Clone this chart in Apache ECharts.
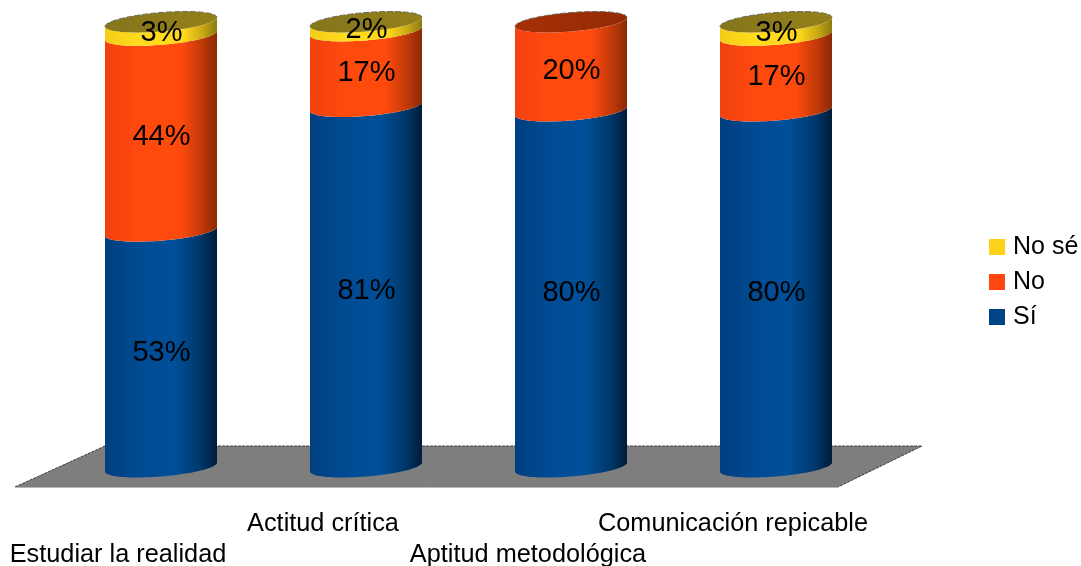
<!DOCTYPE html>
<html>
<head>
<meta charset="utf-8">
<style>html,body{margin:0;padding:0;background:#fff}#chart{width:1081px;height:566px}</style>
<script src="https://cdn.jsdelivr.net/npm/echarts@6/dist/echarts.min.js"></script>
</head>
<body>
<div id="chart"></div>
<script>
// Survey answers per competence, in percent
const categories = ['Estudiar la realidad', 'Actitud crítica', 'Aptitud metodológica', 'Comunicación repicable'];
const si = [53, 81, 80, 80];
const no = [44, 17, 20, 17];
const noSe = [3, 2, 0, 3];

const FONT = '"Liberation Sans", Arial, sans-serif';

// Cylinder side shading, left to right
function sideFill(stops) {
  return { type: 'linear', x: 0, y: 0, x2: 1, y2: 0,
    colorStops: stops.map(s => ({ offset: s[0], color: s[1] })) };
}
const palette = {
  'Sí': {
    legend: '#004488',
    side: sideFill([[0, '#003f80'], [0.35, '#004c94'], [0.62, '#004f98'], [0.84, '#00396e'], [1, '#001c38']]),
    cap: '#002c5a'
  },
  'No': {
    legend: '#ff4510',
    side: sideFill([[0, '#f2410f'], [0.3, '#ff4a0e'], [0.68, '#ff4a0e'], [0.86, '#c23a09'], [1, '#8a2a05']]),
    cap: sideFill([[0, '#a62f04'], [1, '#932b05']])
  },
  'No sé': {
    legend: '#ffd21a',
    side: sideFill([[0, '#f2cc18'], [0.3, '#ffdc1c'], [0.7, '#ffd81c'], [0.87, '#c9a814'], [1, '#8c7a10']]),
    cap: sideFill([[0, '#85761c'], [1, '#94801a']])
  }
};

// Stack the three answers so each segment knows where it starts and ends
const stacked = { 'Sí': [], 'No': [], 'No sé': [] };
categories.forEach((_, i) => {
  const start1 = si[i], start2 = start1 + no[i], end = start2 + noSe[i];
  stacked['Sí'].push([i, 0, start1, si[i], noSe[i] === 0 && no[i] === 0 ? 1 : 0]);
  stacked['No'].push([i, start1, start2, no[i], noSe[i] === 0 ? 1 : 0]);
  stacked['No sé'].push([i, start2, end, noSe[i], 1]);
});

const SKEW = 4.5;   // vertical tilt of the elliptical rims
const RIM = 9.5;    // vertical radius of the rims
const STEPS = 48;

function rim(cx, cy, rx, from, to) {
  const pts = [];
  for (let k = 0; k <= STEPS; k++) {
    const t = from + (to - from) * k / STEPS;
    pts.push([cx + rx * Math.cos(t), cy + RIM * Math.sin(t) - SKEW * Math.cos(t)]);
  }
  return pts;
}

function drawSegment(name) {
  return function (params, api) {
    const value = api.value(3);
    if (!value) return { type: 'group', children: [] };
    const idx = api.value(0);
    const base = api.coord([idx, api.value(1)]);
    const top = api.coord([idx, api.value(2)]);
    const mid = api.coord([idx, (api.value(1) + api.value(2)) / 2]);
    const rx = api.size([1, 0])[0] * 0.2732;
    const style = palette[name];
    const cx = base[0];
    const side = rim(cx, base[1], rx, Math.PI, 0).concat(rim(cx, top[1], rx, 0, Math.PI));
    const children = [{
      type: 'polygon', shape: { points: side }, style: { fill: style.side }
    }];
    if (api.value(4)) {
      children.push({
        type: 'polygon',
        shape: { points: rim(cx, top[1], rx, 0, Math.PI * 2) },
        style: { fill: style.cap }
      });
      children.push({
        type: 'polyline',
        shape: { points: rim(cx, top[1], rx, Math.PI, Math.PI * 2) },
        style: { fill: 'none', stroke: '#6a6a5a', lineWidth: 1, lineDash: [6, 2] }
      });
    }
    children.push({
      type: 'text',
      style: {
        x: cx + 0.5, y: mid[1] + 4, text: value + '%',
        fill: '#000', font: '29px ' + FONT, align: 'center', verticalAlign: 'middle'
      }
    });
    return { type: 'group', children };
  };
}

const seriesNames = ['Sí', 'No', 'No sé'];

const chart = echarts.init(document.getElementById('chart'), null, { renderer: 'canvas' });
chart.setOption({
  backgroundColor: '#fff',
  animation: false,
  legend: {
    data: ['No sé', 'No', 'Sí'],
    orient: 'vertical',
    left: 984,
    top: 227,
    itemWidth: 16,
    itemHeight: 16,
    itemGap: 5,
    icon: 'rect',
    textStyle: { fontFamily: FONT, fontSize: 25, color: '#000', lineHeight: 30, padding: [0, 0, 0, 3] }
  },
  grid: [
    { left: 58.5, width: 820, top: 22, height: 445, outerBoundsMode: 'none' },
    { left: 15.5, width: 820, top: 22, height: 445, outerBoundsMode: 'none' }
  ],
  xAxis: [
    { type: 'category', gridIndex: 0, data: categories, show: false },
    {
      type: 'category', gridIndex: 1, data: categories,
      axisLine: { show: false }, axisTick: { show: false },
      axisLabel: {
        interval: 0, margin: 42, hideOverlap: false,
        fontFamily: FONT, fontSize: 25.3, color: '#000', lineHeight: 31,
        formatter: (text, i) => (i % 2 === 0 ? '\n' + text : text)
      }
    }
  ],
  yAxis: [
    { type: 'value', gridIndex: 0, min: 0, max: 100, show: false },
    { type: 'value', gridIndex: 1, min: 0, max: 100, show: false }
  ],
  // Grey floor the cylinders stand on
  graphic: [{
    type: 'group', z: -1, silent: true,
    children: [
      { type: 'polygon', shape: { points: [[15, 487], [105, 446], [922, 446], [838, 487]] },
        style: { fill: '#7e7e7e' } },
      { type: 'polyline', shape: { points: [[15, 487], [105, 446], [922, 446], [838, 487]] },
        style: { fill: 'none', stroke: '#3c3c3c', lineWidth: 1, lineDash: [3, 1] } },
      { type: 'polyline', shape: { points: [[15, 487.5], [838, 487.5]] },
        style: { fill: 'none', stroke: '#b8b8b8', lineWidth: 1 } }
    ]
  }],
  series: seriesNames.map(name => ({
    name,
    type: 'custom',
    xAxisIndex: 0,
    yAxisIndex: 0,
    coordinateSystem: 'cartesian2d',
    clip: false,
    encode: { x: 0, y: [1, 2] },
    itemStyle: { color: palette[name].legend },
    data: stacked[name],
    renderItem: drawSegment(name)
  }))
});
</script>
</body>
</html>
